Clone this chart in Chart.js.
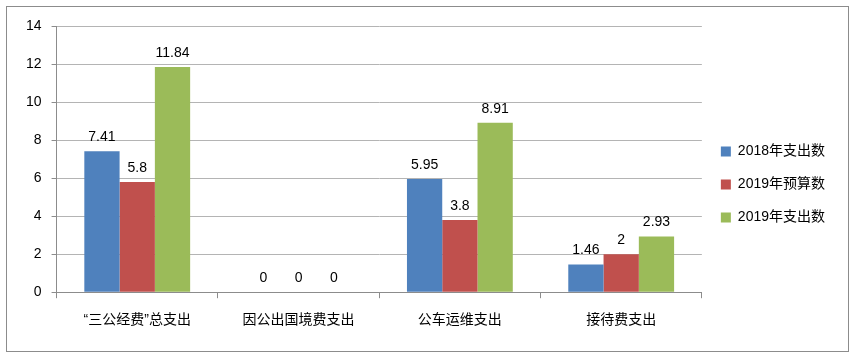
<!DOCTYPE html>
<html>
<head>
<meta charset="utf-8">
<script src="https://cdn.jsdelivr.net/npm/chart.js@4/dist/chart.umd.min.js"></script>
<style>
  html, body { margin: 0; padding: 0; background: #fff; }
  #wrap { width: 860px; height: 360px; position: relative; }
</style>
</head>
<body>
<div id="wrap"><canvas id="chart" width="860" height="360"></canvas></div>
<script>
const categories = ['“三公经费”总支出', '因公出国境费支出', '公车运维支出', '接待费支出'];
const seriesNames = ['2018年支出数', '2019年预算数', '2019年支出数'];
const spend2018 = [7.41, 0, 5.95, 1.46];
const budget2019 = [5.8, 0, 3.8, 2];
const spend2019 = [11.84, 0, 8.91, 2.93];
const yTicks = [0, 2, 4, 6, 8, 10, 12, 14];

const colors = ['#4F81BD', '#C0504D', '#9BBB59'];
const fontFamily = "'Liberation Sans', 'Noto Sans CJK SC', sans-serif";

// outer frame of the picture
const frame = {
  id: 'frame',
  beforeDraw(chart) {
    const ctx = chart.ctx;
    ctx.save();
    ctx.strokeStyle = '#8c8c8c';
    ctx.lineWidth = 1;
    ctx.strokeRect(6.5, 6.5, 842, 345);
    ctx.restore();
  }
};

// values above the bars
const valueLabels = {
  id: 'valueLabels',
  afterDatasetsDraw(chart) {
    const ctx = chart.ctx;
    ctx.save();
    ctx.font = '14px ' + fontFamily;
    ctx.fillStyle = '#000';
    ctx.textAlign = 'center';
    ctx.textBaseline = 'bottom';
    chart.data.datasets.forEach((ds, i) => {
      chart.getDatasetMeta(i).data.forEach((bar, j) => {
        ctx.fillText(String(ds.data[j]), bar.x, bar.y - 7);
      });
    });
    ctx.restore();
  }
};

new Chart(document.getElementById('chart'), {
  type: 'bar',
  data: {
    labels: categories,
    datasets: [
      { label: seriesNames[0], data: spend2018, backgroundColor: colors[0] },
      { label: seriesNames[1], data: budget2019, backgroundColor: colors[1] },
      { label: seriesNames[2], data: spend2019, backgroundColor: colors[2] }
    ]
  },
  options: {
    responsive: false,
    animation: false,
    layout: { padding: { left: 16, right: 25, top: 26, bottom: 17 } },
    datasets: {
      bar: { categoryPercentage: 0.656, barPercentage: 1 }
    },
    scales: {
      x: {
        grid: {
          offset: true,
          drawOnChartArea: false,
          drawTicks: true,
          tickLength: 6,
          color: '#8c8c8c'
        },
        border: { color: '#8c8c8c' },
        ticks: {
          color: '#000',
          font: { size: 14, family: fontFamily },
          padding: 14,
          maxRotation: 0
        }
      },
      y: {
        min: 0,
        max: 14,
        afterBuildTicks(axis) {
          axis.ticks = yTicks.map(v => ({ value: v }));
        },
        grid: {
          color: '#b4b4b4',
          tickLength: 5,
          tickColor: '#8c8c8c'
        },
        border: { color: '#8c8c8c' },
        ticks: {
          color: '#000',
          font: { size: 14, family: fontFamily },
          padding: 10
        }
      }
    },
    plugins: {
      legend: {
        position: 'right',
        labels: {
          color: '#000',
          font: { size: 14, family: fontFamily },
          boxWidth: 10,
          boxHeight: 10,
          padding: 19
        }
      },
      tooltip: { enabled: false }
    }
  },
  plugins: [frame, valueLabels]
});
</script>
</body>
</html>
